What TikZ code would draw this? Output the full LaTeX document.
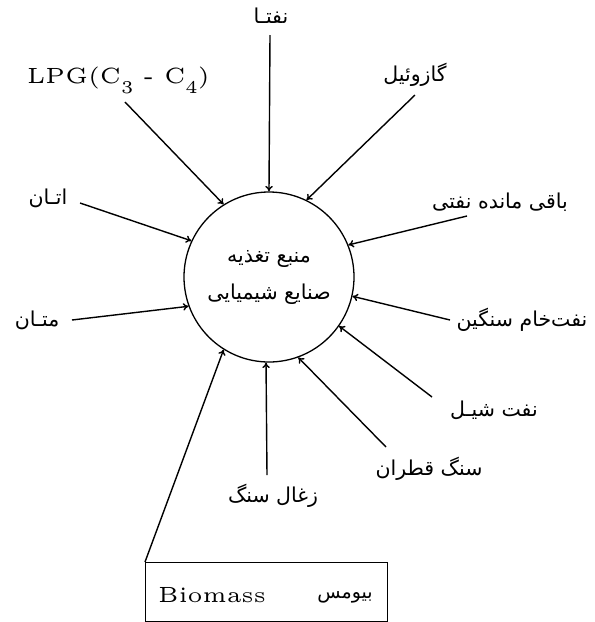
\documentclass[tikz,border=0pt]{standalone}
\usepackage{fontspec}
\usetikzlibrary{arrows.meta}
\newfontfamily\fa[Script=Arabic]{DejaVu Sans}
\newfontfamily\lat{lmroman5-regular}[Extension=.otf]
\TeXXeTstate=1

\tikzset{
  feed/.style={circle, draw, line width=1.3pt, minimum size=170pt, inner sep=0pt,
    align=center, font=\fa\fontsize{20.5}{37}\selectfont},
  falabel/.style={inner sep=0pt, font=\fa\fontsize{20.5}{24}\selectfont},
  latlabel/.style={inner sep=0pt, font=\lat\fontsize{22}{26}\selectfont},
  inflow/.style={line width=1.4pt, -{To[length=5.5pt,width=7.5pt]}},
  sourcebox/.style={draw, line width=1.2pt, anchor=north west, minimum width=242pt,
    minimum height=59pt, inner sep=0pt},
}
% lowered index digit of the LPG label
\newcommand{\lowidx}[1]{\raisebox{-10pt}{\fontsize{18}{20}\selectfont #1}}

\begin{document}
\begin{tikzpicture}[x=1pt, y=-1pt]
  \useasboundingbox (0,0) rectangle (595,622);

  % central feedstock circle
  \node[feed] (feed) at (269,277) {\beginR منبع تغذیه\endR\\ \beginR صنایع شیمیایی\endR};

  % source labels
  \node[falabel] (nafta) at (271,16) {\beginR نفتـا\endR};
  \node[latlabel, anchor=base west] (lpg) at (27,83) {LPG(C\lowidx{3} - C\lowidx{4})};
  \node[falabel] (gazoil) at (415,75) {\beginR گازوئیل\endR};
  \node[falabel] (baqi) at (500,202) {\beginR باقی مانده نفتی\endR};
  \node[falabel] (etan) at (48,198) {\beginR اتـان\endR};
  \node[falabel] (metan) at (37,320) {\beginR متـان\endR};
  \node[falabel] (naftkham) at (522,320) {\beginR نفت‌خام سنگین\endR};
  \node[falabel] (shale) at (494,410) {\beginR نفت شیـل\endR};
  \node[falabel] (qatran) at (429,469) {\beginR سنگ قطران\endR};
  \node[falabel] (zoghal) at (273,496) {\beginR زغال سنگ\endR};

  % biomass box
  \node[sourcebox] (box) at (145,562) {};
  \node[latlabel, anchor=base west] (biomass) at (158,602) {Biomass};
  \node[falabel, font=\fa\fontsize{19}{22}\selectfont] (biofa) at (345,597) {\beginR بیومس\endR};

  % free ends of the inflow lines
  \coordinate (sNafta) at (270,35);
  \coordinate (sLpg) at (125,102);
  \coordinate (sGazoil) at (415,95);
  \coordinate (sBaqi) at (467,216);
  \coordinate (sEtan) at (80,203);
  \coordinate (sMetan) at (72,320);
  \coordinate (sNaftkham) at (450,320);
  \coordinate (sShale) at (432,397);
  \coordinate (sQatran) at (386,447);
  \coordinate (sZoghal) at (267,475);

  % inflows into the circle
  \draw[inflow] (sNafta) -- (feed.90);
  \draw[inflow] (sLpg) -- (feed.122.4);
  \draw[inflow] (sGazoil) -- (feed.64.6);
  \draw[inflow] (sBaqi) -- (feed.22.6);
  \draw[inflow] (sEtan) -- (feed.155.3);
  \draw[inflow] (sMetan) -- (feed.200.3);
  \draw[inflow] (sNaftkham) -- (feed.347.2);
  \draw[inflow] (sShale) -- (feed.325.1);
  \draw[inflow] (sQatran) -- (feed.290.8);
  \draw[inflow] (sZoghal) -- (feed.268.7);
  \draw[inflow] (box.north west) -- (feed.238.3);
\end{tikzpicture}
\end{document}
